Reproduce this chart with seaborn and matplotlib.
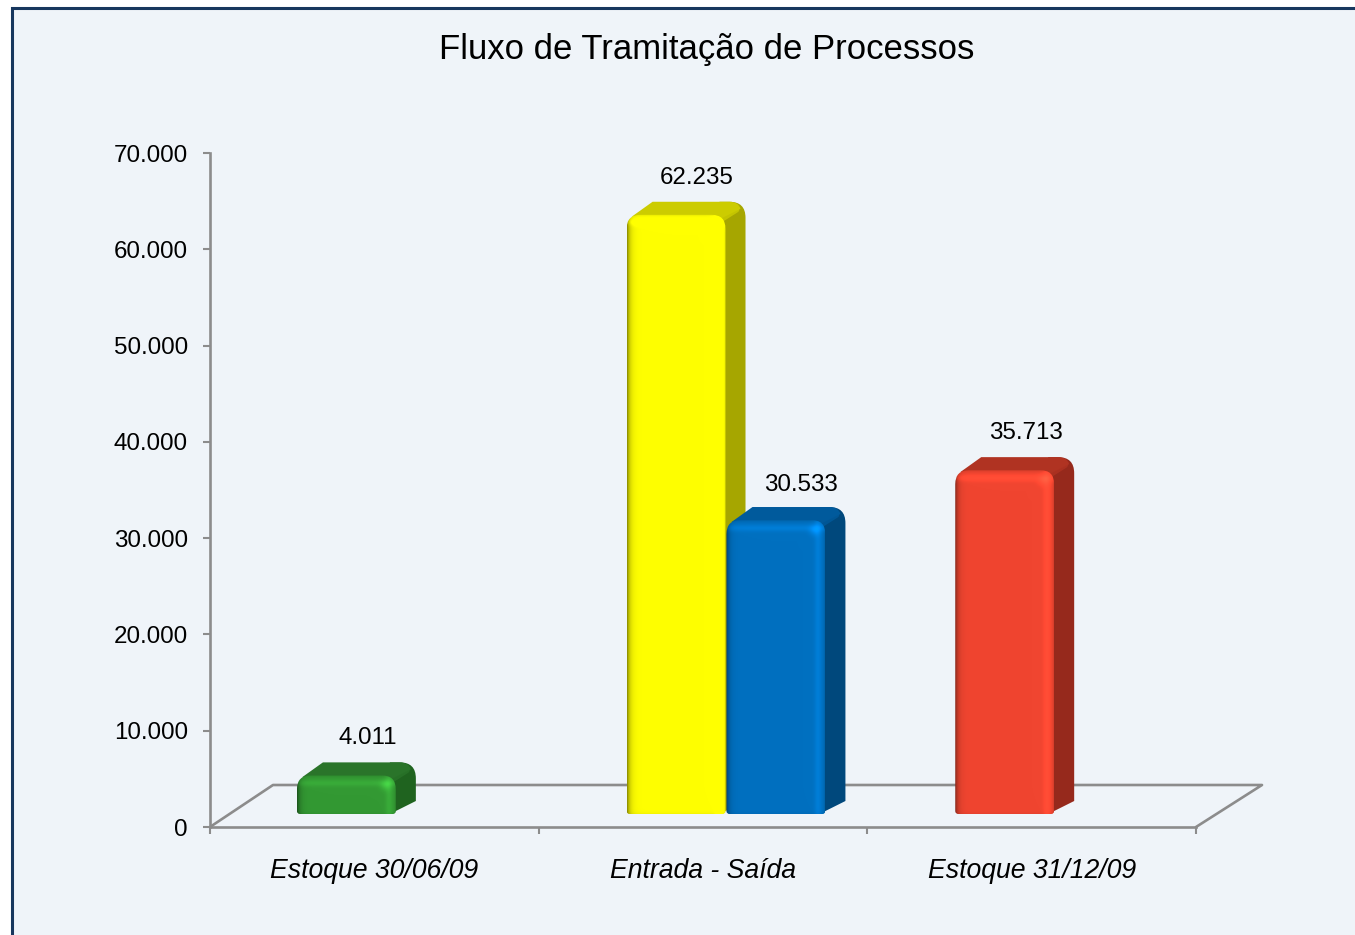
import numpy as np
import pandas as pd
import matplotlib
matplotlib.use('Agg')
import matplotlib.pyplot as plt
from matplotlib.patches import PathPatch, Rectangle
from matplotlib.path import Path
import seaborn as sns

categories = ['Estoque 30/06/09', 'Entrada - Saída', 'Entrada - Saída', 'Estoque 31/12/09']
series = ['Estoque inicial', 'Entrada', 'Saída', 'Estoque final']
values = [4011, 62235, 30533, 35713]
value_labels = ['4.011', '62.235', '30.533', '35.713']
y_ticks = [0, 10000, 20000, 30000, 40000, 50000, 60000, 70000]
y_tick_labels = ['0', '10.000', '20.000', '30.000', '40.000', '50.000', '60.000', '70.000']
title = 'Fluxo de Tramitação de Processos'

front_colors = ['#339933', '#FFFF00', '#0070C0', '#F04530']
side_colors = ['#1F631F', '#A6A600', '#00487C', '#96291C']
top_colors = ['#2A742A', '#CCCC00', '#005A9C', '#B03322']

BG = '#EFF4F9'
AXIS = '#8C8C8C'
BORDER = '#17375E'
W, H = 1355, 935
AX_L, AX_R, AX_T, AX_B = 210, 1196, 153, 827

# bars do not sit on the axis but on the middle of the 3d floor, and off centre
x_shift = [-0.085, -0.082, 0.222, -0.082]
label_nudge_x = [1, 1, 5, 1]
label_nudge_y = [1, 1, 3, 1]
BAR_WIDTH = 0.301

sns.set_theme(style='white')
plt.rcParams['font.family'] = ['Liberation Sans', 'DejaVu Sans']

df = pd.DataFrame({'categoria': categories, 'serie': series, 'valor': values})

fig = plt.figure(figsize=(W / 100, H / 100), dpi=100, facecolor='white')
fig.patches.append(Rectangle((11.5 / W, -0.1), 1.2, 1.1 - 7.5 / H, transform=fig.transFigure,
                             facecolor=BG, edgecolor=BORDER, linewidth=2.2, zorder=-1))
ax = fig.add_axes([AX_L / W, 1 - AX_B / H, (AX_R - AX_L) / W, (AX_B - AX_T) / H])
ax.patch.set_alpha(0)

sns.barplot(data=df, x='categoria', y='valor', hue='serie', order=list(dict.fromkeys(categories)),
            hue_order=series, dodge=False, width=BAR_WIDTH, palette=front_colors, legend=False, ax=ax)

ax.set_xlim(-0.5, 2.5)
ax.set_ylim(0, 70000)
ax.autoscale(False)

px_x = 3 / (AX_R - AX_L)
px_y = 70000 / (AX_B - AX_T)
depth_x = 20 * px_x
depth_y = 13 * px_y
lift = 13 * px_y


def rounded(x0, x1, y0, y1, r_top, r_bot):
    # outline with rounded corners, radius given in pixels
    rx, ry = r_top * px_x, r_top * px_y
    bx, by = r_bot * px_x, r_bot * px_y
    verts = [(x0 + bx, y0), (x1 - bx, y0), (x1, y0), (x1, y0 + by), (x1, y1 - ry), (x1, y1), (x1 - rx, y1),
             (x0 + rx, y1), (x0, y1), (x0, y1 - ry), (x0, y0 + by), (x0, y0), (x0 + bx, y0), (x0 + bx, y0)]
    codes = [Path.MOVETO, Path.LINETO, Path.CURVE3, Path.CURVE3, Path.LINETO, Path.CURVE3, Path.CURVE3,
             Path.LINETO, Path.CURVE3, Path.CURVE3, Path.LINETO, Path.CURVE3, Path.CURVE3, Path.CLOSEPOLY]
    return Path(verts, codes)


def bevel(color, w, h):
    # shaded front of the bar, dark rim and a light band inside it
    base = np.array(matplotlib.colors.to_rgb(color))
    xs, ys = np.meshgrid(np.arange(w) + 0.5, np.arange(h) + 0.5)
    dl, dr, dt, db = xs, w - xs, ys, h - ys
    dark = np.exp(-dl / 3) * 0.5 + np.exp(-dr / 1.2) * 0.15 + np.exp(-dt / 1.5) * 0.15 + np.exp(-db / 1.5) * 0.05
    light = np.exp(-((dr - 7) / 3.5) ** 2) * 0.12 + np.exp(-((dt - 8) / 3.5) ** 2) * 0.12
    light = light + np.exp(-((dr - 10) ** 2 + (dt - 10) ** 2) / 30) * 0.22
    rgb = base[None, None, :] * (1 - np.clip(dark, 0, 0.7))[:, :, None] * (1 + light)[:, :, None]
    return np.clip(rgb, 0, 1)


bars = list(ax.patches)
for i, bar in enumerate(bars):
    bar.set_visible(False)
    x0 = bar.get_x() + x_shift[i]
    x1 = x0 + bar.get_width()
    y0 = lift
    y1 = lift + bar.get_height()
    z = 3 + i
    bx0, bx1, by1 = x0 + depth_x, x1 + depth_x, y1 + depth_y

    # side face, goes down to the floor at the back
    side = Path([(x1 - 6 * px_x, y0), (bx1, y0 + depth_y), (bx1, by1 - 16 * px_y), (bx1, by1),
                 (bx1 - 16 * px_x, by1), (x1 - 6 * px_x, by1), (x1 - 6 * px_x, y0)],
                [Path.MOVETO, Path.LINETO, Path.LINETO, Path.CURVE3, Path.CURVE3, Path.LINETO, Path.CLOSEPOLY])
    ax.add_patch(PathPatch(side, facecolor=side_colors[i], edgecolor='none', zorder=z))
    # top face, rounded at the back right corner
    top = Path([(x0 + 5 * px_x, y1 - 2 * px_y), (bx0 + 6 * px_x, by1), (bx1 - 16 * px_x, by1), (bx1 - 7 * px_x, by1),
                (bx1 - 5 * px_x, by1 - 7 * px_y), (x1 - 5 * px_x, y1 - 4 * px_y), (x0 + 5 * px_x, y1 - 2 * px_y)],
               [Path.MOVETO, Path.LINETO, Path.LINETO, Path.CURVE3, Path.CURVE3, Path.LINETO, Path.CLOSEPOLY])
    ax.add_patch(PathPatch(top, facecolor=top_colors[i], edgecolor='none', zorder=z + 0.1))
    ax.plot([x1 - 8 * px_x, bx1 - 9 * px_x], [y1 - 7 * px_y, by1 - 8 * px_y], color=top_colors[i], alpha=0.8,
            lw=4, solid_capstyle='round', zorder=z + 0.1)

    w_px = int(round(bar.get_width() / px_x))
    h_px = int(round(bar.get_height() / px_y))
    img = ax.imshow(bevel(front_colors[i], w_px, h_px), extent=(x0, x1, y0, y1), aspect='auto',
                    origin='upper', interpolation='bilinear', zorder=z + 0.2)
    img.set_clip_path(rounded(x0, x1, y0, y1, 14, 3), transform=ax.transData)

    ax.annotate(value_labels[i], xy=((x0 + x1) / 2, by1),
                xytext=((20 + label_nudge_x[i]) * 0.72, (25 - label_nudge_y[i]) * 0.72), textcoords='offset points',
                ha='center', va='center', fontsize=17.4, color='black', zorder=20)

ax.set_xlim(-0.5, 2.5)
ax.set_ylim(0, 70000)

# 3d floor behind the bars
floor_x = [-0.5, -0.5 + 63 * px_x, 2.5 + 66 * px_x, 2.5]
floor_y = [0, 42 * px_y, 42 * px_y, 0]
ax.plot(floor_x, floor_y, color=AXIS, lw=1.9, clip_on=False, zorder=2)

for spine in ['top', 'right']:
    ax.spines[spine].set_visible(False)
for spine in ['left', 'bottom']:
    ax.spines[spine].set_color(AXIS)
    ax.spines[spine].set_linewidth(1.9)

ax.set_yticks(y_ticks)
ax.set_yticklabels(y_tick_labels, fontsize=17.4, color='black')
ax.tick_params(axis='y', left=True, length=5, width=1.5, color=AXIS, pad=11)
ax.set_xticks([-0.5, 0.5, 1.5, 2.5], minor=True)
ax.tick_params(axis='x', which='minor', bottom=True, length=5, width=1.5, color=AXIS)
ax.tick_params(axis='x', which='major', bottom=False, length=0, pad=22)
for lab in ax.get_xticklabels():
    lab.set_fontsize(19.2)
    lab.set_fontstyle('italic')
    lab.set_color('black')
ax.set_xlabel('')
ax.set_ylabel('')

fig.text(706.5 / W, 1 - 49 / H, title, ha='center', va='center', fontsize=25, color='black')

fig.savefig('out.png', dpi=100)
